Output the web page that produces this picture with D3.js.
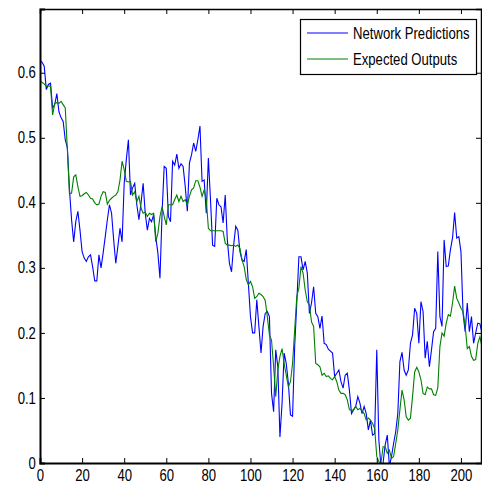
<!DOCTYPE html>
<html>
<head>
<meta charset="utf-8">
<script src="https://cdn.jsdelivr.net/npm/d3@7"></script>
<style>
  body { margin: 0; background: #fff; }
  text { font-family: "Liberation Sans", Arial, sans-serif; font-size: 16px; fill: #000; }
</style>
</head>
<body>
<svg id="visualisation" width="482" height="485"></svg>
<script>
// sample index 0..210
const steps = d3.range(0, 211)

const networkPredictions = [
  0.619, 0.616, 0.610, 0.574, 0.582, 0.584, 0.546, 0.551, 0.568, 0.540,
  0.531, 0.525, 0.497, 0.485, 0.420, 0.374, 0.340, 0.371, 0.387, 0.358,
  0.325, 0.315, 0.310, 0.317, 0.320, 0.302, 0.280, 0.280, 0.320, 0.300,
  0.323, 0.348, 0.374, 0.397, 0.384, 0.343, 0.307, 0.333, 0.361, 0.340,
  0.430, 0.466, 0.497, 0.412, 0.423, 0.430, 0.397, 0.374, 0.400, 0.430,
  0.384, 0.358, 0.376, 0.371, 0.382, 0.348, 0.323, 0.284, 0.384, 0.456,
  0.453, 0.379, 0.371, 0.464, 0.458, 0.475, 0.453, 0.460, 0.456, 0.425,
  0.387, 0.461, 0.474, 0.492, 0.479, 0.497, 0.518, 0.433, 0.435, 0.384,
  0.469, 0.405, 0.335, 0.333, 0.407, 0.397, 0.394, 0.369, 0.412, 0.343,
  0.307, 0.294, 0.335, 0.364, 0.358, 0.325, 0.312, 0.310, 0.328, 0.276,
  0.225, 0.200, 0.200, 0.251, 0.210, 0.169, 0.210, 0.230, 0.233, 0.225,
  0.107, 0.079, 0.174, 0.148, 0.040, 0.092, 0.169, 0.153, 0.123, 0.074,
  0.072, 0.179, 0.246, 0.317, 0.317, 0.297, 0.310, 0.292, 0.230, 0.246,
  0.271, 0.230, 0.225, 0.207, 0.226, 0.184, 0.182, 0.175, 0.172, 0.169,
  0.133, 0.138, 0.143, 0.125, 0.115, 0.135, 0.138, 0.112, 0.076, 0.082,
  0.087, 0.102, 0.092, 0.076, 0.087, 0.076, 0.051, 0.066, 0.043, 0.045,
  0.174, 0.035, -0.006, 0.000, 0.028, 0.043, -0.005, 0.010, 0.030, 0.048,
  0.076, 0.156, 0.170, 0.143, 0.135, 0.143, 0.184, 0.197, 0.238, 0.230,
  0.184, 0.248, 0.233, 0.161, 0.187, 0.148, 0.174, 0.202, 0.207, 0.325,
  0.225, 0.210, 0.343, 0.302, 0.303, 0.328, 0.346, 0.385, 0.346, 0.348,
  0.325, 0.230, 0.202, 0.246, 0.202, 0.225, 0.184, 0.200, 0.215, 0.214,
  0.200
]

const expectedOutputs = [
  0.588, 0.585, 0.583, 0.579, 0.580, 0.579, 0.535, 0.553, 0.554, 0.553,
  0.556, 0.551, 0.546, 0.482, 0.414, 0.415, 0.440, 0.443, 0.425, 0.410,
  0.411, 0.414, 0.416, 0.412, 0.407, 0.406, 0.400, 0.397, 0.398, 0.410,
  0.417, 0.416, 0.398, 0.404, 0.407, 0.410, 0.412, 0.417, 0.435, 0.464,
  0.451, 0.433, 0.432, 0.433, 0.412, 0.417, 0.402, 0.410, 0.392, 0.384,
  0.386, 0.379, 0.384, 0.382, 0.384, 0.340, 0.353, 0.379, 0.394, 0.379,
  0.366, 0.397, 0.397, 0.397, 0.405, 0.412, 0.402, 0.410, 0.402, 0.405,
  0.397, 0.410, 0.420, 0.423, 0.434, 0.434, 0.424, 0.410, 0.420, 0.405,
  0.361, 0.357, 0.357, 0.357, 0.357, 0.357, 0.357, 0.356, 0.338, 0.335,
  0.335, 0.334, 0.335, 0.333, 0.335, 0.330, 0.312, 0.302, 0.282, 0.274,
  0.279, 0.271, 0.253, 0.256, 0.261, 0.259, 0.256, 0.250, 0.225, 0.197,
  0.189, 0.148, 0.102, 0.143, 0.164, 0.176, 0.153, 0.135, 0.117, 0.125,
  0.153, 0.205, 0.256, 0.269, 0.302, 0.292, 0.266, 0.248, 0.243, 0.217,
  0.210, 0.153, 0.151, 0.148, 0.135, 0.138, 0.133, 0.134, 0.130, 0.128,
  0.133, 0.125, 0.112, 0.107, 0.107, 0.105, 0.097, 0.082, 0.081, 0.082,
  0.087, 0.082, 0.084, 0.080, 0.076, 0.066, 0.069, 0.066, 0.061, 0.053,
  0.010, 0.002, 0.000, 0.025, 0.025, 0.015, 0.020, 0.007, 0.010, 0.030,
  0.051, 0.082, 0.112, 0.097, 0.071, 0.066, 0.069, 0.102, 0.140, 0.147,
  0.140, 0.128, 0.107, 0.105, 0.117, 0.114, 0.114, 0.105, 0.104, 0.116,
  0.179, 0.200, 0.195, 0.215, 0.228, 0.226, 0.246, 0.272, 0.253, 0.246,
  0.238, 0.233, 0.210, 0.176, 0.179, 0.164, 0.158, 0.159, 0.184, 0.194,
  0.179
]

const xTicks = [0, 20, 40, 60, 80, 100, 120, 140, 160, 180, 200]
const yTicks = [0, 0.1, 0.2, 0.3, 0.4, 0.5, 0.6]
const legendLabels = ["Network Predictions", "Expected Outputs"]
const seriesColors = ["#0000ff", "#008000"]

const LEFT = 40, RIGHT = 481, TOP = 9, BOTTOM = 463

const vis = d3.select("#visualisation")

const xScale = d3.scaleLinear().domain([0, 210]).range([LEFT, 482])
const yScale = d3.scaleLinear().domain([0, 0.698]).range([BOTTOM, TOP])

vis.append("defs").append("clipPath")
    .attr("id", "plotClip")
  .append("rect")
    .attr("x", LEFT)
    .attr("y", TOP)
    .attr("width", RIGHT - LEFT)
    .attr("height", BOTTOM - TOP)

// lines
const lineGen = d3.line()
    .x(function(d, i) { return xScale(steps[i]) })
    .y(function(d) { return yScale(d) })

const allSeries = [networkPredictions, expectedOutputs]
allSeries.forEach(function(series, k) {
  vis.append("path")
      .attr("d", lineGen(series))
      .attr("clip-path", "url(#plotClip)")
      .attr("fill", "none")
      .attr("stroke", seriesColors[k])
      .attr("stroke-width", 1.1)
})

// axes, ticks point inward like matlab
const xAxis = d3.axisBottom(xScale).tickValues(xTicks).tickSize(-5).tickPadding(6.5)
vis.append("g")
    .attr("class", "x axis")
    .attr("transform", "translate(0," + BOTTOM + ")")
    .call(xAxis)

const yAxis = d3.axisLeft(yScale).tickValues(yTicks).tickSize(-5).tickPadding(5)
    .tickFormat(d3.format(""))
vis.append("g")
    .attr("class", "y axis")
    .attr("transform", "translate(" + LEFT + ",0)")
    .call(yAxis)

vis.append("g")
    .attr("transform", "translate(0," + TOP + ")")
    .call(d3.axisTop(xScale).tickValues(xTicks).tickSize(-5).tickFormat(""))

vis.append("g")
    .attr("transform", "translate(" + RIGHT + ",0)")
    .call(d3.axisRight(yScale).tickValues(yTicks).tickSize(-5).tickFormat(""))

vis.selectAll(".domain").attr("stroke", "#000").attr("stroke-width", 1.5)
vis.selectAll(".x.axis .domain, .y.axis .domain").attr("stroke-width", 2)
vis.selectAll(".tick line").attr("stroke", "#000")
// the original font is a narrow helvetica, squeeze it
vis.selectAll(".tick text")
    .style("font-family", '"Liberation Sans", Arial, sans-serif')
    .style("font-size", "16px")
    .attr("fill", "#000")
    .attr("transform", "scale(0.82,1)")

// legend
const legend = vis.append("g")
legend.append("rect")
    .attr("x", 300.5)
    .attr("y", 19.5)
    .attr("width", 176)
    .attr("height", 55)
    .attr("fill", "#fff")
    .attr("stroke", "#000")
    .attr("stroke-width", 1.2)

legendLabels.forEach(function(label, k) {
  const y = 33 + k * 26
  legend.append("line")
      .attr("x1", 307).attr("x2", 348)
      .attr("y1", y).attr("y2", y)
      .attr("stroke", seriesColors[k])
      .attr("stroke-width", 1.1)
  legend.append("text")
      .attr("transform", "translate(353," + y + ") scale(0.82,1)")
      .attr("dy", "0.35em")
      .text(label)
})
</script>
</body>
</html>
